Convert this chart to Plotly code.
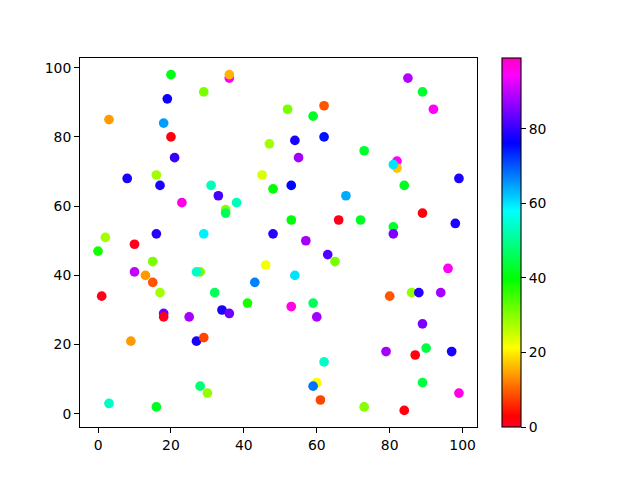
import plotly.graph_objects as go

x_vals = [20, 29, 19, 3, 18, 20, 21, 8, 16, 17, 31, 36, 36, 52, 62, 59, 54, 62, 47, 55,
          45, 48, 53, 85, 89, 92, 73, 82, 82, 81, 99, 84, 33, 23, 16, 29, 2, 10, 0, 15,
          10, 13, 15, 28, 27, 17, 1, 32, 38, 35, 35, 53, 66, 48, 57, 63, 65, 46, 54, 43,
          41, 53, 59, 68, 72, 89, 98, 81, 81, 96, 80, 86, 88, 94, 18, 18, 25, 9, 27, 29,
          28, 30, 3, 16, 34, 36, 60, 62, 60, 59, 61, 89, 79, 87, 90, 97, 89, 99, 73, 84]
y_vals = [98, 93, 91, 85, 84, 80, 74, 68, 69, 66, 66, 97, 98, 88, 89, 86, 79, 80, 78, 74,
          69, 65, 66, 97, 93, 88, 76, 73, 71, 72, 68, 66, 63, 61, 52, 52, 51, 49, 47, 44,
          41, 40, 38, 41, 41, 35, 34, 35, 61, 59, 58, 56, 56, 52, 50, 46, 44, 43, 40, 38,
          32, 31, 32, 63, 56, 58, 55, 54, 52, 42, 34, 35, 35, 35, 29, 28, 28, 21, 21, 22,
          8, 6, 3, 2, 30, 29, 28, 15, 9, 8, 4, 26, 18, 17, 19, 18, 9, 6, 2, 1]
c_vals = [41, 31, 77, 14, 65, 2, 80, 78, 28, 78, 53, 95, 16, 31, 9, 42, 78, 75, 28, 88,
          24, 40, 76, 89, 43, 95, 43, 95, 17, 60, 78, 42, 81, 96, 79, 59, 28, 1, 38, 31,
          90, 14, 9, 31, 54, 28, 1, 46, 53, 30, 46, 40, 1, 79, 88, 82, 31, 22, 60, 67,
          38, 96, 46, 64, 42, 2, 78, 43, 85, 95, 9, 29, 79, 88, 84, 1, 88, 14, 78, 8,
          48, 29, 54, 42, 78, 84, 88, 54, 21, 68, 8, 85, 88, 2, 44, 78, 44, 96, 30, 2]

colorbar_ticks = [0, 20, 40, 60, 80]
x_ticks = [0, 20, 40, 60, 80, 100]
y_ticks = [0, 20, 40, 60, 80, 100]

gist_rainbow = [
    [0.000, "rgb(255,0,41)"],
    [0.030, "rgb(255,0,0)"],
    [0.215, "rgb(255,255,0)"],
    [0.400, "rgb(0,255,0)"],
    [0.586, "rgb(0,255,255)"],
    [0.770, "rgb(0,0,255)"],
    [0.954, "rgb(255,0,255)"],
    [1.000, "rgb(255,0,191)"],
]

font = dict(family="DejaVu Sans", size=13.9, color="black")

fig = go.Figure(go.Scatter(
    x=x_vals, y=y_vals, mode="markers",
    marker=dict(
        size=9.7, color=c_vals, colorscale=gist_rainbow, cmin=0, cmax=99,
        line=dict(width=0),
        colorbar=dict(
            x=1.063, xanchor="left", xref="paper", y=0.5, yanchor="middle",
            len=1.0, lenmode="fraction", thickness=18.5, thicknessmode="pixels",
            outlinewidth=1.1, outlinecolor="black", borderwidth=0,
            tickvals=colorbar_ticks, ticks="outside", ticklen=4.9, tickwidth=1.1,
            tickcolor="black", tickfont=font, xpad=0, ypad=0,
        ),
    ),
    showlegend=False,
))

axis_common = dict(
    showgrid=False, zeroline=False, showline=True, mirror=True,
    linecolor="black", linewidth=1.1, ticks="outside", ticklen=4.9,
    tickwidth=1.1, tickcolor="black", tickfont=font, automargin=False,
)

# page body has an 8px default margin, so the figure is offset by 8px
fig.update_layout(
    width=632, height=472,
    margin=dict(l=72, r=163, t=50, b=53, autoexpand=False),
    paper_bgcolor="white", plot_bgcolor="white",
    xaxis=dict(range=[-4.95, 103.95], tickvals=x_ticks, **axis_common),
    yaxis=dict(range=[-3.8, 102.8], tickvals=y_ticks, **axis_common),
    font=font,
)

fig.write_html("out.html")
